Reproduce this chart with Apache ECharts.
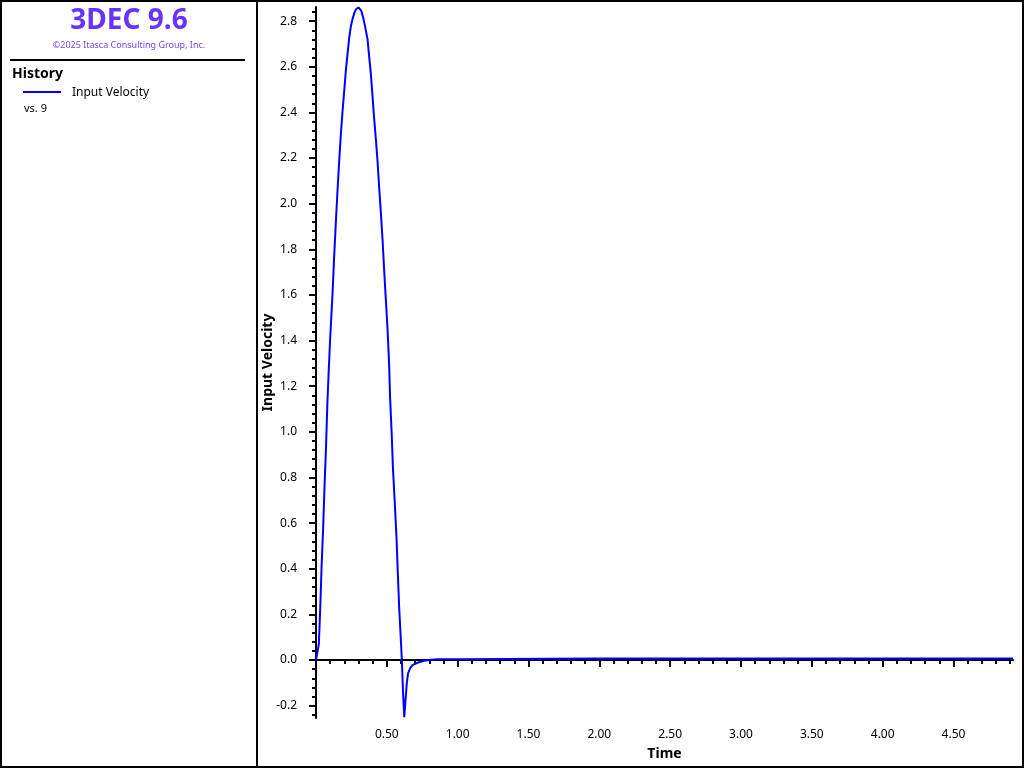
<!DOCTYPE html>
<html>
<head>
<meta charset="utf-8">
<script src="https://cdn.jsdelivr.net/npm/echarts@6/dist/echarts.min.js"></script>
<style>
html,body{margin:0;padding:0;background:#fff;}
#c{width:1024px;height:768px;}
</style>
</head>
<body>
<div id="c"></div>
<script>
// ---- data ----
const time = [0.000,0.012,0.020,0.030,0.040,0.050,0.060,0.070,0.080,0.090,0.100,0.117,0.129,0.141,0.153,0.164,0.176,0.188,0.200,0.211,0.223,0.235,0.247,0.258,0.270,0.282,0.291,0.300,0.310,0.320,0.335,0.347,0.364,0.376,0.387,0.399,0.411,0.423,0.434,0.446,0.458,0.470,0.481,0.493,0.505,0.516,0.523,0.533,0.544,0.556,0.568,0.577,0.587,0.599,0.606,0.615,0.623,0.632,0.641,0.650,0.664,0.681,0.716,0.762,0.800,0.856,1.000,1.010,2.000,3.000,4.000,4.920];
const inputVelocity = [0.000,0.000,0.07,0.23,0.42,0.57,0.76,0.92,1.12,1.27,1.41,1.61,1.78,1.93,2.07,2.19,2.31,2.41,2.50,2.585,2.66,2.73,2.78,2.81,2.835,2.852,2.858,2.860,2.857,2.845,2.81,2.775,2.72,2.64,2.57,2.47,2.37,2.28,2.19,2.07,1.96,1.84,1.71,1.58,1.45,1.30,1.15,1.01,0.83,0.69,0.54,0.39,0.23,0.09,0.00,-0.15,-0.25,-0.175,-0.10,-0.058,-0.036,-0.022,-0.012,-0.003,0.000,0.004,0.004,0.007,0.007,0.007,0.007,0.007];
const xMajorTicks = [0.5,1.0,1.5,2.0,2.5,3.0,3.5,4.0,4.5];
const yMajorTicks = [-0.2,0.0,0.2,0.4,0.6,0.8,1.0,1.2,1.4,1.6,1.8,2.0,2.2,2.4,2.6,2.8];
const xRange = [0, 4.92];
const yRange = [-0.254, 2.862];
const seriesName = 'Input Velocity';
const xName = 'Time';
const yName = 'Input Velocity';

// minor tick positions (every 0.1 on x, every 0.04 on y)
function minors(lo, hi, step, majors) {
  const out = [];
  const n0 = Math.ceil(lo / step - 1e-9), n1 = Math.floor(hi / step + 1e-9);
  for (let i = n0; i <= n1; i++) {
    const v = +(i * step).toFixed(4);
    if (v <= lo || v >= hi) continue;
    if (majors.some(m => Math.abs(m - v) < 1e-6)) continue;
    out.push(v);
  }
  return out;
}
const xMinor = minors(xRange[0], xRange[1], 0.1, xMajorTicks);
const yMinor = minors(yRange[0], yRange[1], 0.04, yMajorTicks);

const FONT = '"Noto Sans", "Open Sans", sans-serif';
const chart = echarts.init(document.getElementById('c'), null, {renderer: 'canvas'});

const baseX = {type: 'value', min: xRange[0], max: xRange[1], position: 'bottom', splitLine: {show: false}};
const baseY = {type: 'value', min: yRange[0], max: yRange[1], position: 'left', splitLine: {show: false}};

chart.setOption({
  animation: false,
  backgroundColor: '#fff',
  grid: {left: 316, right: 11, top: 7, bottom: 50, containLabel: false},
  xAxis: [
    Object.assign({}, baseX, {
      name: xName, nameLocation: 'middle', nameGap: 29, nameMoveOverlap: false,
      nameTextStyle: {fontFamily: FONT, fontWeight: 'bold', fontSize: 14, color: '#000'},
      axisLine: {show: true, lineStyle: {color: '#000', width: 2}},
      axisTick: {show: true, customValues: xMajorTicks, length: 7, lineStyle: {color: '#000', width: 2}},
      axisLabel: {show: true, customValues: xMajorTicks, margin: 11, fontFamily: FONT, fontSize: 12, color: '#000',
        formatter: v => v.toFixed(2)}
    }),
    Object.assign({}, baseX, {
      axisLine: {show: false},
      axisTick: {show: true, customValues: xMinor, length: 4, lineStyle: {color: '#000', width: 2}},
      axisLabel: {show: false}
    })
  ],
  yAxis: [
    Object.assign({}, baseY, {
      name: yName, nameLocation: 'middle', nameGap: 41, nameRotate: 90, nameMoveOverlap: false,
      nameTextStyle: {fontFamily: FONT, fontWeight: 'bold', fontSize: 14, color: '#000'},
      axisLine: {show: true, lineStyle: {color: '#000', width: 2}},
      axisTick: {show: true, customValues: yMajorTicks, length: 7, lineStyle: {color: '#000', width: 2}},
      axisLabel: {show: true, customValues: yMajorTicks, margin: 19, fontFamily: FONT, fontSize: 12, color: '#000',
        formatter: v => v.toFixed(1)}
    }),
    Object.assign({}, baseY, {
      axisLine: {show: false},
      axisTick: {show: true, customValues: yMinor, length: 4, lineStyle: {color: '#000', width: 2}},
      axisLabel: {show: false}
    })
  ],
  series: [
    {
      name: 'zero', type: 'line', xAxisIndex: 0, yAxisIndex: 0, z: 1,
      data: [[xRange[0], 0], [xRange[1], 0]],
      symbol: 'none', silent: true,
      lineStyle: {color: '#000', width: 2}
    },
    {
      name: seriesName, type: 'line', xAxisIndex: 0, yAxisIndex: 0, z: 2,
      data: time.map((t, i) => [t, inputVelocity[i]]),
      symbol: 'none', smooth: false, clip: true,
      lineStyle: {color: '#0000ff', width: 2}
    }
  ],
  graphic: [
    {type: 'rect', shape: {x: 1, y: 1, width: 1022, height: 766}, style: {fill: 'none', stroke: '#000', lineWidth: 2}, z: 100},
    {type: 'line', shape: {x1: 257, y1: 0, x2: 257, y2: 768}, style: {stroke: '#000', lineWidth: 2}, z: 100},
    {type: 'line', shape: {x1: 10, y1: 60, x2: 245, y2: 60}, style: {stroke: '#000', lineWidth: 2}, z: 100},
    {type: 'text', x: 129, y: 21, style: {text: '3DEC 9.6', fill: '#6633ff', font: 'bold 28px ' + FONT, align: 'center', verticalAlign: 'middle'}, z: 100},
    {type: 'text', x: 129, y: 45, style: {text: '\u00a92025 Itasca Consulting Group, Inc.', fill: '#7744ff', font: '9px ' + FONT, align: 'center', verticalAlign: 'middle'}, z: 100},
    {type: 'text', x: 12, y: 74, style: {text: 'History', fill: '#000', font: 'bold 14px ' + FONT, align: 'left', verticalAlign: 'middle'}, z: 100},
    {type: 'line', shape: {x1: 23, y1: 92, x2: 61, y2: 92}, style: {stroke: '#0000ff', lineWidth: 2}, z: 100},
    {type: 'text', x: 72, y: 93, style: {text: seriesName, fill: '#000', font: '12px ' + FONT, align: 'left', verticalAlign: 'middle'}, z: 100},
    {type: 'text', x: 24, y: 109, style: {text: 'vs. 9', fill: '#000', font: '11px ' + FONT, align: 'left', verticalAlign: 'middle'}, z: 100}
  ]
});
</script>
</body>
</html>
